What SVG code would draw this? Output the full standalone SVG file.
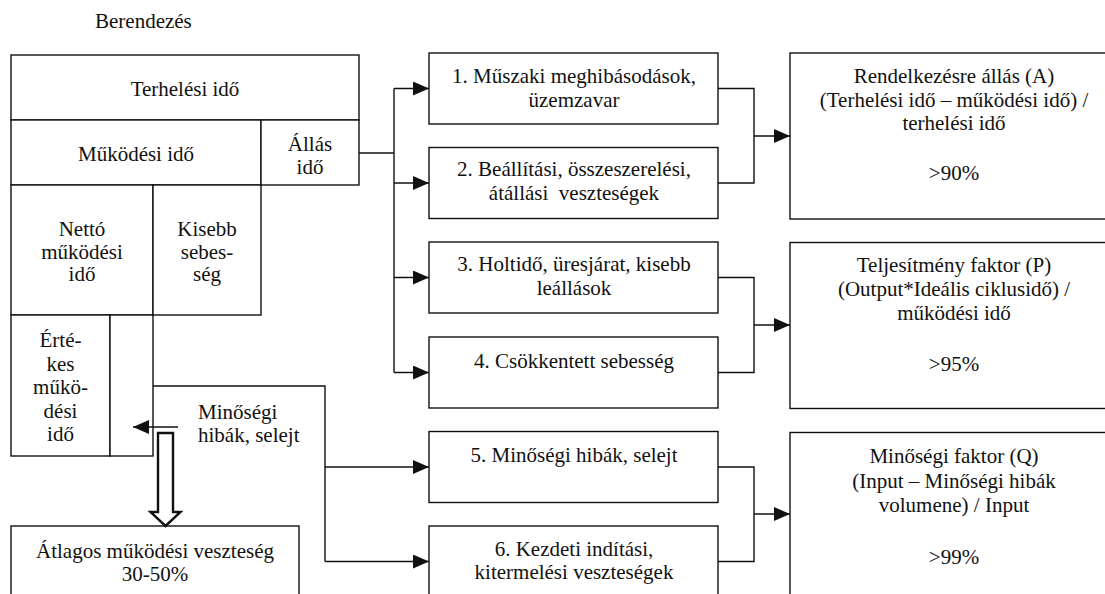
<svg xmlns="http://www.w3.org/2000/svg" width="1105" height="594" viewBox="0 0 1105 594">
  <style>
    text { font-family: "Liberation Serif", "Times New Roman", Tinos, serif; font-size: 21px; fill: #111; }
    .c { text-anchor: middle; }
    .box { fill: #fff; stroke: #111; stroke-width: 1.4; }
    .ln { fill: none; stroke: #111; stroke-width: 1.4; }
  </style>
  <defs>
    <marker id="arr" viewBox="0 0 16 14" refX="16" refY="7" markerWidth="16" markerHeight="14" markerUnits="userSpaceOnUse" orient="auto">
      <path d="M0,0 L16,7 L0,14 Z" fill="#111"/>
    </marker>
  </defs>

  <text x="95" y="28">Berendezés</text>

  <!-- time breakdown block -->
  <g id="terhelesi-ido">
    <rect class="box" x="11" y="55" width="348" height="65"/>
    <text class="c" x="185" y="96">Terhelési idő</text>
  </g>
  <g id="mukodesi-ido">
    <rect class="box" x="11" y="120" width="250" height="65"/>
    <text class="c" x="136" y="161">Működési idő</text>
  </g>
  <g id="allas-ido">
    <rect class="box" x="261" y="120" width="98" height="65"/>
    <text class="c" x="310" y="151">Állás</text>
    <text class="c" x="310" y="174">idő</text>
  </g>
  <g id="netto-mukodesi-ido">
    <rect class="box" x="11" y="185" width="142" height="130"/>
    <text class="c" x="82" y="236">Nettó</text>
    <text class="c" x="82" y="258.5">működési</text>
    <text class="c" x="82" y="281">idő</text>
  </g>
  <g id="kisebb-sebesseg">
    <rect class="box" x="153" y="185" width="108" height="130"/>
    <text class="c" x="207" y="236">Kisebb</text>
    <text class="c" x="207" y="258.5">sebes-</text>
    <text class="c" x="207" y="281">ség</text>
  </g>
  <g id="ertekes-mukodesi-ido">
    <rect class="box" x="11" y="315" width="99" height="141"/>
    <text class="c" x="60.5" y="347">Érté-</text>
    <text class="c" x="60.5" y="370.5">kes</text>
    <text class="c" x="60.5" y="394">műkö-</text>
    <text class="c" x="60.5" y="417.5">dési</text>
    <text class="c" x="60.5" y="441">idő</text>
  </g>
  <g id="selejt-resz">
    <rect class="box" x="110" y="315" width="43" height="141"/>
  </g>
  <g id="minosegi-cimke">
    <text x="198" y="419">Minőségi</text>
    <text x="198" y="442">hibák, selejt</text>
  </g>
  <g id="atlagos-veszteseg">
    <rect class="box" x="11" y="526" width="288" height="80"/>
    <text class="c" x="155" y="558">Átlagos működési veszteség</text>
    <text class="c" x="155" y="581">30-50%</text>
  </g>

  <!-- six big losses -->
  <g id="v1">
    <rect class="box" x="429" y="53" width="289" height="71"/>
    <text class="c" x="574" y="83">1. Műszaki meghibásodások,</text>
    <text class="c" x="574" y="106.5">üzemzavar</text>
  </g>
  <g id="v2">
    <rect class="box" x="429" y="147.5" width="289" height="71"/>
    <text class="c" x="574" y="176">2. Beállítási, összeszerelési,</text>
    <text class="c" x="574" y="199.5" xml:space="preserve">átállási  veszteségek</text>
  </g>
  <g id="v3">
    <rect class="box" x="429" y="242" width="289" height="71"/>
    <text class="c" x="574" y="271">3. Holtidő, üresjárat, kisebb</text>
    <text class="c" x="574" y="294.5">leállások</text>
  </g>
  <g id="v4">
    <rect class="box" x="429" y="337" width="289" height="71"/>
    <text class="c" x="574" y="367.5">4. Csökkentett sebesség</text>
  </g>
  <g id="v5">
    <rect class="box" x="429" y="431.5" width="289" height="71"/>
    <text class="c" x="574" y="461.5">5. Minőségi hibák, selejt</text>
  </g>
  <g id="v6">
    <rect class="box" x="429" y="526" width="289" height="71"/>
    <text class="c" x="574" y="555.5">6. Kezdeti indítási,</text>
    <text class="c" x="574" y="579">kitermelési veszteségek</text>
  </g>

  <!-- OEE factors -->
  <g id="faktor-a">
    <rect class="box" x="790" y="53" width="328" height="166"/>
    <text class="c" x="954" y="83">Rendelkezésre állás (A)</text>
    <text class="c" x="954" y="106.5">(Terhelési idő – működési idő) /</text>
    <text class="c" x="954" y="130">terhelési idő</text>
    <text class="c" x="954" y="180">&gt;90%</text>
  </g>
  <g id="faktor-p">
    <rect class="box" x="790" y="242.5" width="328" height="166"/>
    <text class="c" x="954" y="272">Teljesítmény faktor (P)</text>
    <text class="c" x="954" y="295.5">(Output*Ideális ciklusidő) /</text>
    <text class="c" x="954" y="319.5">működési idő</text>
    <text class="c" x="954" y="370.5">&gt;95%</text>
  </g>
  <g id="faktor-q">
    <rect class="box" x="790" y="432.5" width="328" height="170"/>
    <text class="c" x="954" y="463">Minőségi faktor (Q)</text>
    <text class="c" x="954" y="487.5">(Input – Minőségi hibák</text>
    <text class="c" x="954" y="512">volumene) / Input</text>
    <text class="c" x="954" y="563.5">&gt;99%</text>
  </g>

  <!-- connectors -->
  <g id="connectors">
    <!-- downtime bus -->
    <path class="ln" d="M359,153 H394"/>
    <path class="ln" d="M394,88.5 V372.5"/>
    <path class="ln" d="M394,88.5 H429" marker-end="url(#arr)"/>
    <path class="ln" d="M394,183 H429" marker-end="url(#arr)"/>
    <path class="ln" d="M394,277.5 H429" marker-end="url(#arr)"/>
    <path class="ln" d="M394,372.5 H429" marker-end="url(#arr)"/>
    <!-- quality bus -->
    <path class="ln" d="M153,386 H325 V561.5"/>
    <path class="ln" d="M325,467 H429" marker-end="url(#arr)"/>
    <path class="ln" d="M325,561.5 H429" marker-end="url(#arr)"/>
    <!-- merges into factors -->
    <path class="ln" d="M718,88.5 H754 V183 H718"/>
    <path class="ln" d="M754,136 H790" marker-end="url(#arr)"/>
    <path class="ln" d="M718,277.5 H754 V372.5 H718"/>
    <path class="ln" d="M754,325 H790" marker-end="url(#arr)"/>
    <path class="ln" d="M718,467 H754 V561.5 H718"/>
    <path class="ln" d="M754,514 H790" marker-end="url(#arr)"/>
    <!-- scrap pointer -->
    <path class="ln" d="M178,427 H133" marker-end="url(#arr)"/>
    <!-- hollow arrow to average loss -->
    <path d="M158,433 H173 V512 H180.5 L165.5,526 L150.5,512 H158 Z" fill="#fff" stroke="#111" stroke-width="2.4" stroke-linejoin="miter"/>
  </g>
</svg>
